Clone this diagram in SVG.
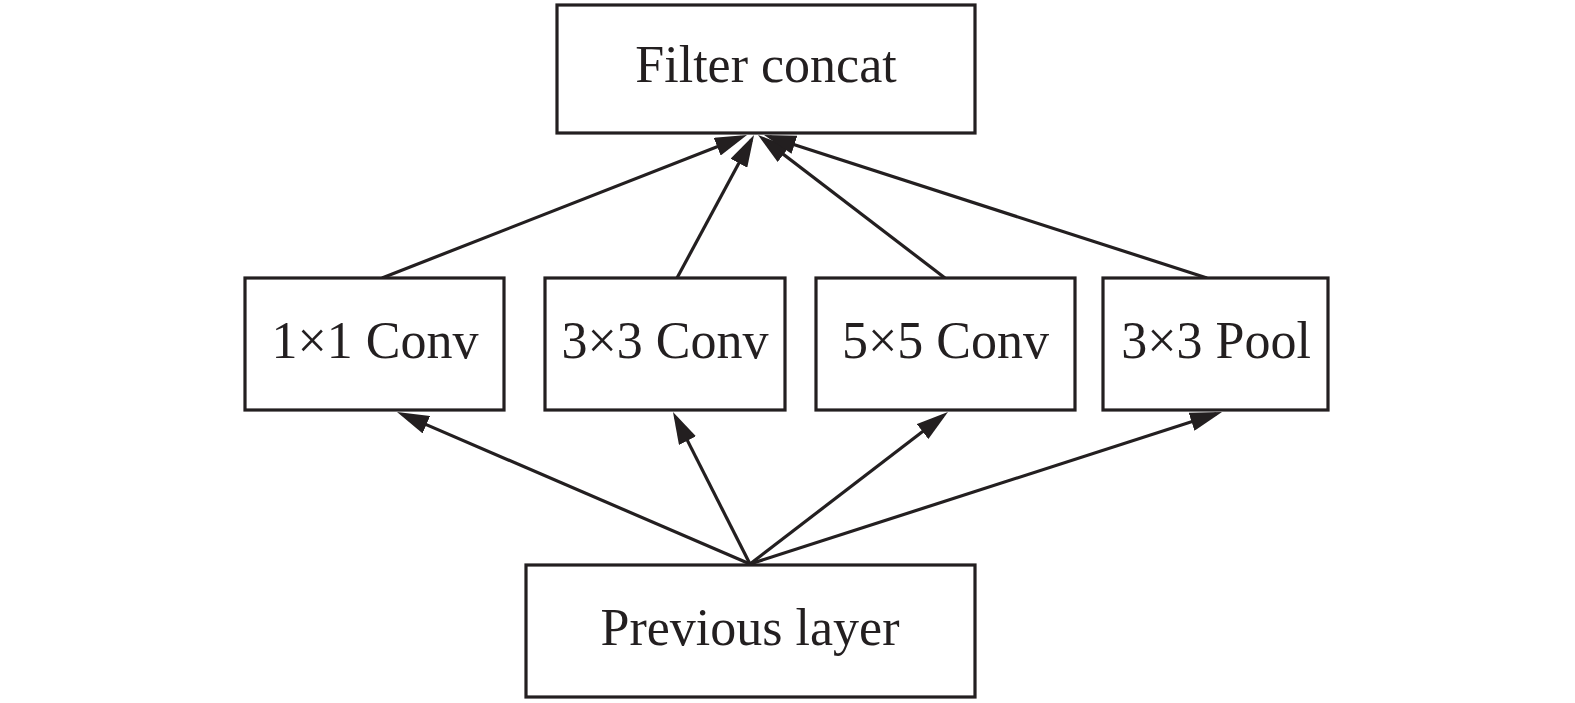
<svg xmlns="http://www.w3.org/2000/svg" width="1575" height="703" viewBox="0 0 1575 703">
<style>
.box{fill:#ffffff;stroke:#231f20;stroke-width:3.2}
.lbl{font-family:"Liberation Serif","Times New Roman",serif;font-size:52px;fill:#231f20;text-anchor:middle}
.edge{stroke:#231f20;stroke-width:3.2;fill:none;marker-end:url(#arr)}
</style>
<defs>
<marker id="arr" markerUnits="userSpaceOnUse" markerWidth="32" markerHeight="19" viewBox="0 0 32 19" refX="26" refY="9.5" orient="auto">
<path d="M0,0 L32,9.5 L0,19 z" fill="#231f20"/>
</marker>
</defs>
<rect width="1575" height="703" fill="#ffffff"/>
<g id="connectors">
<line class="edge" x1="382" y1="278" x2="741.4" y2="137.2"/>
<line class="edge" x1="677" y1="278" x2="751.2" y2="140.3"/>
<line class="edge" x1="945" y1="278" x2="762.8" y2="138.6"/>
<line class="edge" x1="1207" y1="278" x2="769.7" y2="136.8"/>
<line class="edge" x1="750" y1="564" x2="402.5" y2="414.4"/>
<line class="edge" x1="750" y1="564" x2="675.7" y2="417.4"/>
<line class="edge" x1="750" y1="564" x2="943.2" y2="415.7"/>
<line class="edge" x1="750" y1="564" x2="1216.3" y2="413.8"/>
</g>
<g id="filter-concat">
<rect class="box" x="557" y="5" width="418" height="128"/>
<text class="lbl" x="766" y="82">Filter concat</text>
</g>
<g id="conv1x1">
<rect class="box" x="245" y="278" width="259" height="132"/>
<text class="lbl" x="375" y="358">1×1 Conv</text>
</g>
<g id="conv3x3">
<rect class="box" x="545" y="278" width="240" height="132"/>
<text class="lbl" x="665" y="358">3×3 Conv</text>
</g>
<g id="conv5x5">
<rect class="box" x="816" y="278" width="259" height="132"/>
<text class="lbl" x="945.5" y="358">5×5 Conv</text>
</g>
<g id="pool3x3">
<rect class="box" x="1103" y="278" width="225" height="132"/>
<text class="lbl" x="1216" y="358">3×3 Pool</text>
</g>
<g id="previous-layer">
<rect class="box" x="526" y="565" width="449" height="132"/>
<text class="lbl" x="750" y="645">Previous layer</text>
</g>
</svg>
